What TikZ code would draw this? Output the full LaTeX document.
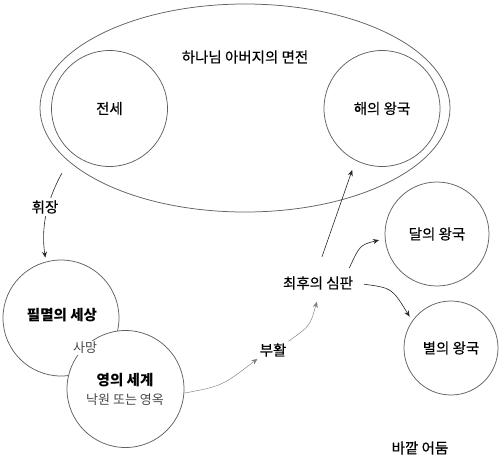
\documentclass[tikz,border=0pt]{standalone}
\usepackage{fontspec}
\setmainfont{Noto Sans CJK KR}
\newfontfamily\krmed{Noto Sans CJK KR}[FakeBold=0.35]
\usetikzlibrary{arrows.meta,shapes.geometric}
\begin{document}
\begin{tikzpicture}[x=1pt,y=-1pt,
  realm/.style={circle, draw=black!62, line width=0.75pt, inner sep=0pt, font=\krmed\fontsize{14.5}{16}\selectfont},
  lbl/.style={font=\krmed\fontsize{14.5}{16}\selectfont, inner sep=2pt},
  boldlbl/.style={font=\fontsize{14.5}{16}\selectfont\bfseries, inner sep=2pt},
  sublbl/.style={font=\fontsize{13}{15}\selectfont, text=black!72, inner sep=1.5pt},
  arr/.style={-{Stealth[length=6pt,width=5pt]}, line width=0.6pt, draw=black!85},
  lightarr/.style={-{Stealth[length=6pt,width=5pt]}, line width=0.45pt, draw=black!50},
]
\useasboundingbox (0,0) rectangle (500,467);
% presence of God
\node[ellipse, draw=black!62, line width=0.75pt, minimum width=410pt, minimum height=208pt, inner sep=0pt] (presence) at (245,108) {};
\node[lbl] (title) at (245,57) {하나님 아버지의 면전};
\node[realm, minimum size=116pt] (pre) at (109.5,108.5) {전세};
\node[realm, minimum size=116pt] (sun) at (382,108.5) {해의 왕국};
% kingdoms
\node[realm, minimum size=104pt] (moon) at (437,234) {달의 왕국};
\node[realm, minimum size=94pt] (star) at (451,348) {별의 왕국};
% mortal and spirit worlds
\node[realm, minimum size=116pt] (mortal) at (61,318) {};
\node[boldlbl] (mortallbl) at (62,315) {필멸의 세상};
\node[realm, minimum size=117pt, fill=white] (spirit) at (125.5,389) {};
\node[boldlbl] (spiritlbl) at (125,380) {영의 세계};
\node[sublbl] (paradise) at (125,400) {낙원 또는 영옥};
\node[sublbl, fill=white] (death) at (85,348) {사망};
% veil
\coordinate (veilstart) at (62,173);
\draw[arr, shorten >=4pt] (veilstart) .. controls (46,202) and (41,228) .. (mortal.105);
\node[lbl, fill=white] (veil) at (45,207) {휘장};
% resurrection and judgement
\node[lbl] (rise) at (273,350) {부활};
\node[lbl, inner xsep=2pt, inner ysep=8pt] (judg) at (318,283) {최후의 심판};
\draw[lightarr] (spirit.-4) .. controls (222,386) .. (rise.south west);
\draw[lightarr, shorten >=4pt] (rise.north east) .. controls (310,326) .. (judg.south);
\draw[arr, shorten <=12pt, shorten >=10pt] (judg.north) -- (sun.243);
\draw[arr, shorten >=6pt] ([xshift=-6pt]judg.north east) .. controls (360,245) .. (moon.185);
\draw[arr, shorten <=9pt, shorten >=5pt] (judg.east) .. controls (392,288) .. (star.145);
\node[lbl] (outer) at (420,448) {바깥 어둠};
\end{tikzpicture}
\end{document}
